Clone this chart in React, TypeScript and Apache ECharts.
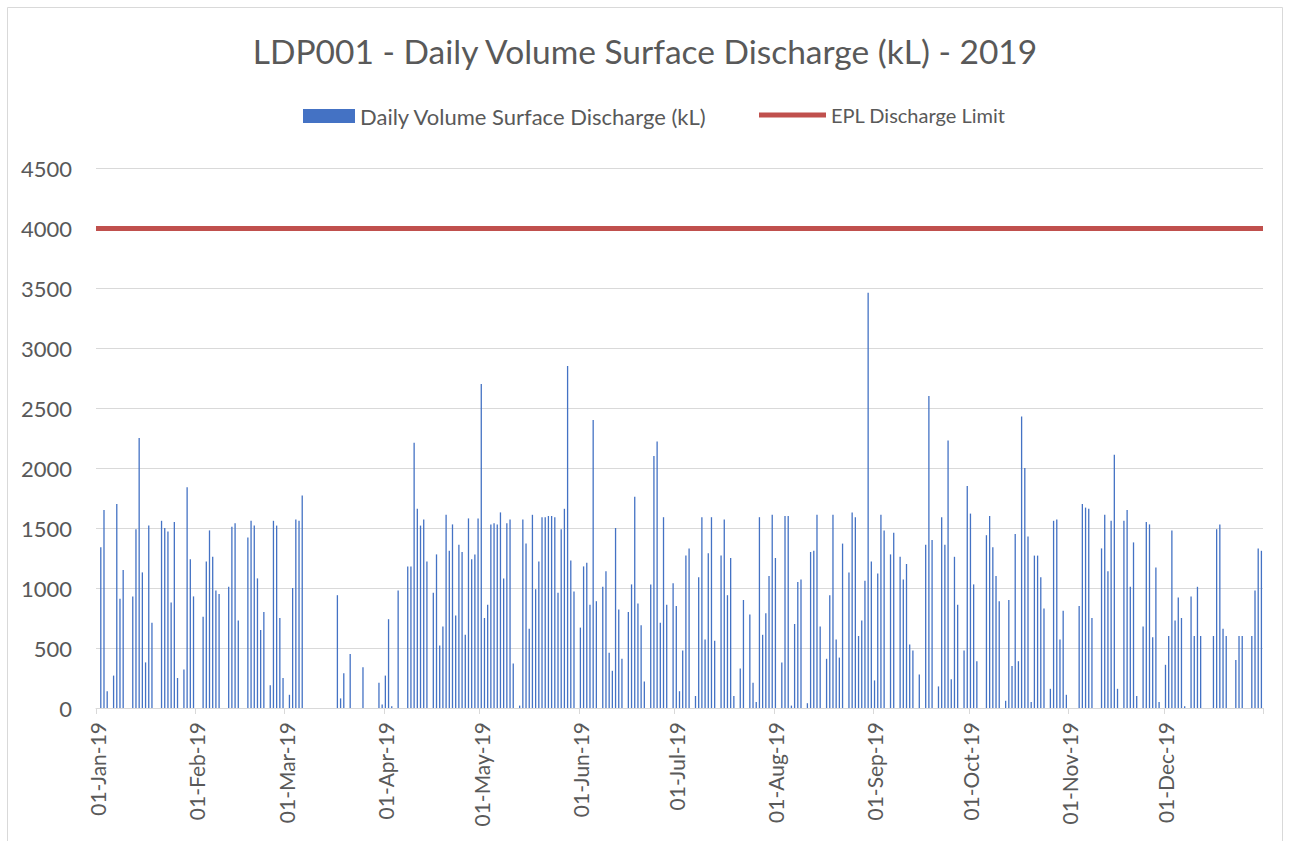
import React, { useEffect, useRef } from "react";
import * as echarts from "echarts";

const MONTH_NAMES = ["Jan", "Feb", "Mar", "Apr", "May", "Jun", "Jul", "Aug", "Sep", "Oct", "Nov", "Dec"];
const DAYS_IN_MONTH = [31, 28, 31, 30, 31, 30, 31, 31, 30, 31, 30, 31];
const YEAR_SUFFIX = "19";

// Daily Volume Surface Discharge (kL), one value per day, by month
const jan = [0, 1340, 1650, 140, 0, 270, 1700, 910, 1150, 0, 0, 930, 1490, 2250, 1130, 380, 1520, 710, 0, 0, 1560, 1500, 1470, 880, 1550, 250, 0, 320, 1840, 1240, 930];
const feb = [0, 0, 760, 1220, 1480, 1260, 980, 950, 0, 0, 1010, 1510, 1540, 730, 0, 0, 1420, 1560, 1520, 1080, 650, 800, 0, 190, 1560, 1520, 750, 250];
const mar = [0, 110, 1000, 1570, 1560, 1770, 0, 0, 0, 0, 0, 0, 0, 0, 0, 0, 940, 80, 290, 0, 450, 0, 0, 0, 340, 0, 0, 0, 0, 210, 30];
const apr = [270, 740, 15, 0, 980, 0, 0, 1180, 1180, 2210, 1660, 1520, 1570, 1220, 0, 960, 1280, 520, 680, 1610, 1310, 1530, 770, 1360, 1300, 610, 1580, 1240, 1280, 1580];
const may = [2700, 750, 860, 1530, 1540, 1530, 1630, 1080, 1540, 1570, 370, 0, 20, 1570, 1370, 660, 1610, 990, 1220, 1590, 1590, 1600, 1600, 1590, 960, 1490, 1660, 2850, 1230, 970, 0];
const jun = [670, 1180, 1210, 860, 2400, 890, 0, 1010, 1140, 460, 310, 1500, 820, 410, 0, 800, 1030, 1760, 870, 690, 220, 0, 1030, 2100, 2220, 710, 1590, 860, 0, 1040];
const jul = [850, 140, 480, 1270, 1330, 0, 100, 1090, 1590, 570, 1290, 1590, 560, 0, 1270, 1570, 940, 1250, 100, 0, 330, 900, 0, 780, 210, 50, 1590, 610, 790, 1100, 1610];
const aug = [1250, 0, 380, 1600, 1600, 20, 700, 1050, 1070, 0, 40, 1300, 1310, 1610, 680, 0, 410, 940, 1610, 570, 420, 1370, 0, 1130, 1630, 1590, 600, 730, 1060, 3460, 1220];
const sep = [230, 1120, 1610, 1480, 0, 1280, 1460, 0, 1260, 1070, 1200, 530, 480, 0, 280, 0, 1360, 2600, 1400, 0, 180, 1590, 1360, 2230, 240, 1260, 860, 0, 480, 1850];
const oct = [1620, 1030, 390, 0, 0, 1440, 1600, 1340, 1100, 890, 0, 60, 900, 350, 1450, 390, 2430, 2000, 1430, 50, 1270, 1270, 1090, 830, 0, 160, 1560, 1570, 570, 810, 110];
const nov = [0, 0, 0, 850, 1700, 1670, 1660, 750, 0, 0, 1330, 1610, 1140, 1560, 2110, 160, 0, 1560, 1650, 1010, 1380, 100, 0, 680, 1550, 1530, 590, 1170, 50, 0];
const dec = [360, 600, 1480, 730, 920, 750, 15, 0, 930, 600, 1010, 600, 0, 0, 0, 600, 1490, 1530, 660, 600, 0, 0, 400, 600, 600, 0, 0, 600, 980, 1330, 1310];

const EPL_LIMIT = 4000;
const Y_TICKS = [0, 500, 1000, 1500, 2000, 2500, 3000, 3500, 4000, 4500];

const MONTH_DATA = [jan, feb, mar, apr, may, jun, jul, aug, sep, oct, nov, dec];

const categories: string[] = [];
const monthStarts = new Set<number>();
MONTH_NAMES.forEach((m, mi) => {
  monthStarts.add(categories.length);
  for (let d = 1; d <= DAYS_IN_MONTH[mi]; d++) {
    categories.push(`${String(d).padStart(2, "0")}-${m}-${YEAR_SUFFIX}`);
  }
});
const dailyVolume: number[] = ([] as number[]).concat(...MONTH_DATA);

const FONT = "Lato, 'Liberation Sans', sans-serif";
const TEXT = "#595959";
const GRID = "#D9D9D9";

export default function App() {
  const ref = useRef<HTMLDivElement>(null);
  useEffect(() => {
    if (!ref.current) return;
    const chart = echarts.init(ref.current, null, { renderer: "svg" });
    chart.setOption({
      animation: false,
      backgroundColor: "#ffffff",
      textStyle: { fontFamily: FONT },
      graphic: [
        {
          type: "rect",
          shape: { x: 7.5, y: 7.5, width: 1275, height: 850 },
          style: { fill: "none", stroke: GRID, lineWidth: 1 },
          silent: true,
        },
      ],
      title: {
        text: "LDP001 - Daily Volume Surface Discharge (kL) - 2019",
        left: "center",
        top: 34,
        padding: 0,
        textStyle: { fontFamily: FONT, fontSize: 33.5, fontWeight: "normal", color: TEXT },
      },
      legend: [
        {
          data: [{ name: "Daily Volume Surface Discharge (kL)", icon: "rect" }],
          left: 303,
          top: 105,
          padding: 0,
          itemWidth: 52,
          itemHeight: 14,
          textStyle: { fontFamily: FONT, fontSize: 22, color: TEXT },
        },
        {
          data: [{ name: "EPL Discharge Limit", icon: "rect" }],
          left: 759,
          top: 105,
          padding: 0,
          itemWidth: 67,
          itemHeight: 5,
          textStyle: { fontFamily: FONT, fontSize: 20, color: TEXT },
        },
      ],
      grid: { left: 96, right: 27, top: 168, bottom: 133, containLabel: false },
      xAxis: {
        type: "category",
        data: categories,
        boundaryGap: true,
        axisLine: { show: true, lineStyle: { color: GRID, width: 1 } },
        axisTick: {
          show: true,
          interval: (i: number) => monthStarts.has(i),
          length: 6,
          lineStyle: { color: GRID },
        },
        axisLabel: {
          interval: (i: number) => monthStarts.has(i),
          rotate: 90,
          margin: 14,
          fontSize: 21,
          color: TEXT,
          fontFamily: FONT,
        },
        splitLine: { show: false },
      },
      yAxis: {
        type: "value",
        min: Y_TICKS[0],
        max: Y_TICKS[Y_TICKS.length - 1],
        interval: Y_TICKS[1] - Y_TICKS[0],
        axisLine: { show: false },
        axisTick: { show: false },
        axisLabel: {
          fontSize: 22,
          color: TEXT,
          margin: 24,
          fontFamily: FONT,
          formatter: (v: number) => String(v),
        },
        splitLine: { show: true, lineStyle: { color: GRID, width: 1 } },
      },
      series: [
        {
          name: "Daily Volume Surface Discharge (kL)",
          type: "bar",
          data: dailyVolume,
          barWidth: 1.3,
          itemStyle: { color: "#4472C4" },
        },
        {
          name: "EPL Discharge Limit",
          type: "line",
          data: [],
          itemStyle: { color: "#C0504D" },
          lineStyle: { color: "#C0504D", width: 5 },
          symbol: "none",
          markLine: {
            silent: true,
            symbol: ["none", "none"],
            label: { show: false },
            lineStyle: { color: "#C0504D", width: 5, type: "solid" },
            data: [{ yAxis: EPL_LIMIT }],
          },
        },
      ],
    });
    return () => chart.dispose();
  }, []);
  return (
    <div
      ref={ref}
      style={{ position: "fixed", left: 0, top: 0, width: 1290, height: 841, background: "#fff" }}
    />
  );
}
